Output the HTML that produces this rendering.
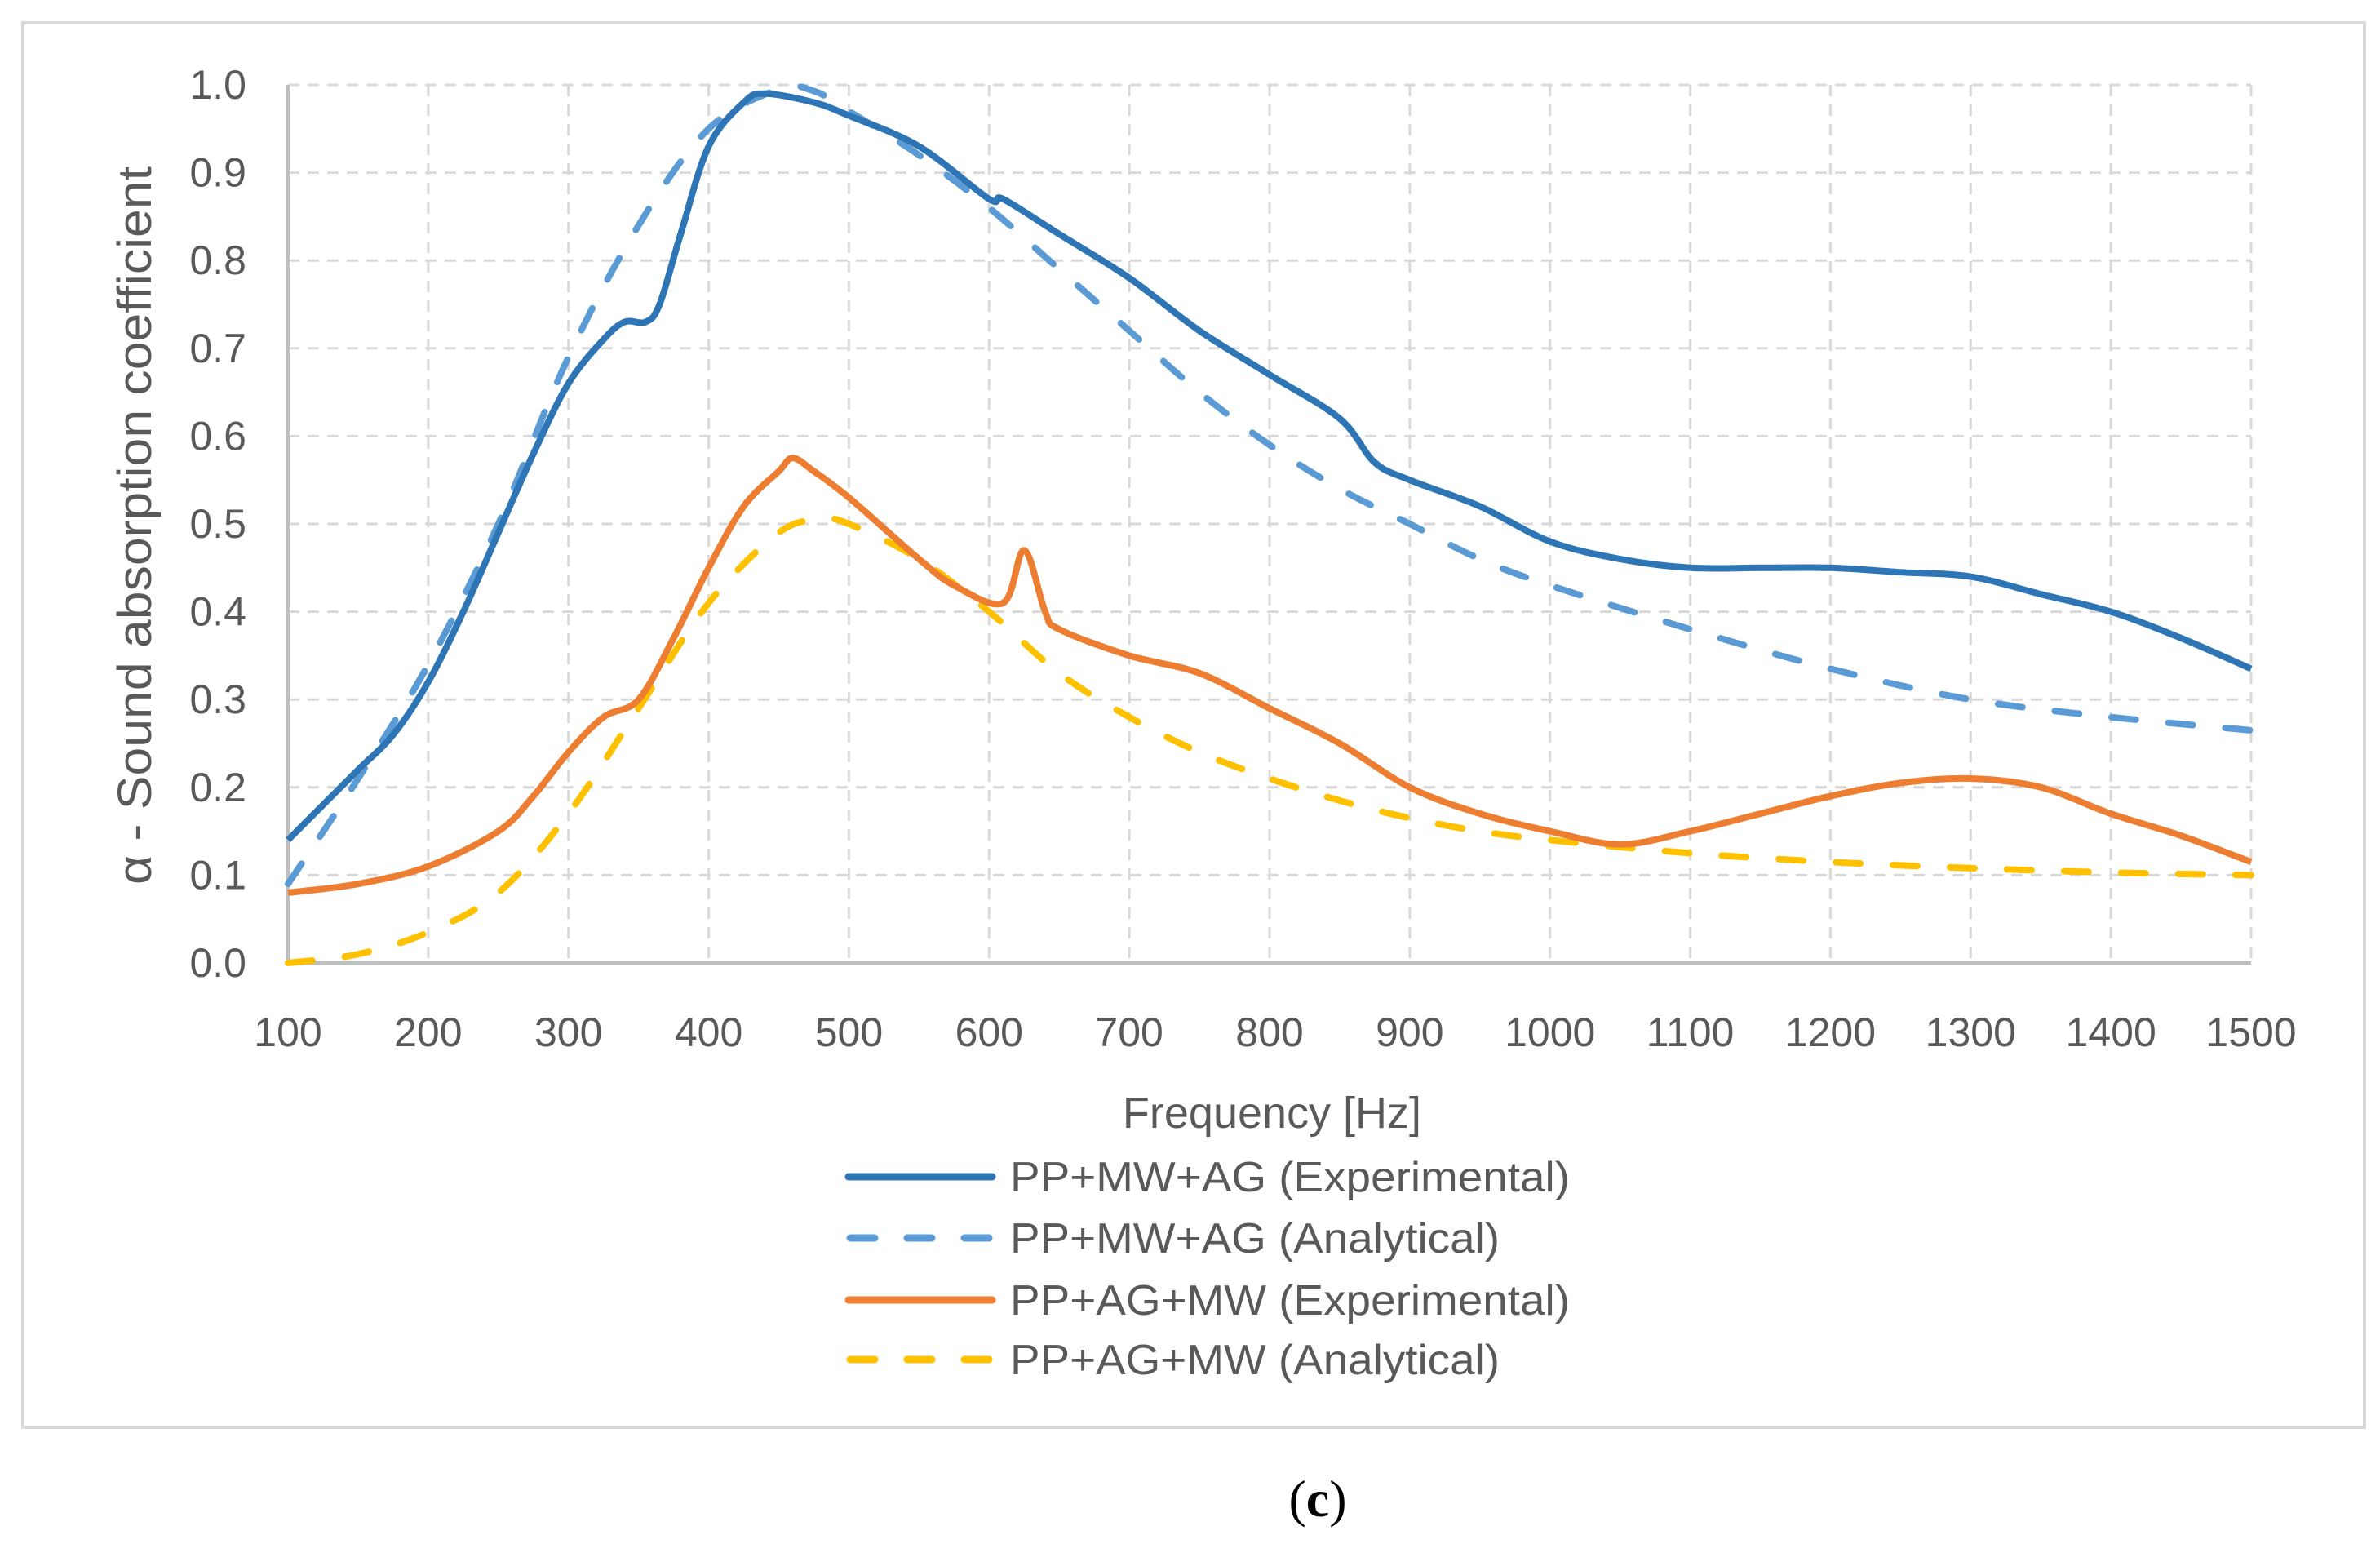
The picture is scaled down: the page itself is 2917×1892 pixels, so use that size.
<!DOCTYPE html>
<html><head><meta charset="utf-8"><style>
html,body{margin:0;padding:0;background:#fff;}
svg{display:block;font-family:"Liberation Sans",sans-serif;}
</style></head><body>
<svg id="chart" width="2917" height="1892" viewBox="0 0 2917 1892" xmlns="http://www.w3.org/2000/svg">
<rect x="28" y="28" width="2870" height="1721" fill="#fff" stroke="#d9d9d9" stroke-width="4"/>
<g id="grid"></g>
<g id="axes"></g>
<g id="series"></g>
<text x="1559" y="1382" font-size="54" fill="#595959" text-anchor="middle">Frequency [Hz]</text>
<text transform="translate(185,644) rotate(-90)" font-size="58" fill="#595959" text-anchor="middle" textLength="880" lengthAdjust="spacingAndGlyphs">α - Sound absorption coefficient</text>
<g>
<g><line x1="1040" y1="1442" x2="1216" y2="1442" stroke="#2E75B6" stroke-width="9" stroke-linecap="round"/><text x="1238" y="1460" font-size="52" fill="#595959" textLength="686" lengthAdjust="spacingAndGlyphs">PP+MW+AG (Experimental)</text></g>
<g><line x1="1042" y1="1517" x2="1214" y2="1517" stroke="#5B9BD5" stroke-width="9" stroke-linecap="round" stroke-dasharray="30,40"/><text x="1238" y="1535" font-size="52" fill="#595959" textLength="600" lengthAdjust="spacingAndGlyphs">PP+MW+AG (Analytical)</text></g>
<g><line x1="1040" y1="1593" x2="1216" y2="1593" stroke="#ED7D31" stroke-width="9" stroke-linecap="round"/><text x="1238" y="1611" font-size="52" fill="#595959" textLength="686" lengthAdjust="spacingAndGlyphs">PP+AG+MW (Experimental)</text></g>
<g><line x1="1042" y1="1666" x2="1214" y2="1666" stroke="#FFC000" stroke-width="9" stroke-linecap="round" stroke-dasharray="30,40"/><text x="1238" y="1684" font-size="52" fill="#595959" textLength="600" lengthAdjust="spacingAndGlyphs">PP+AG+MW (Analytical)</text></g>
</g>
<text x="1615" y="1858" font-size="64" fill="#000" text-anchor="middle" font-family="Liberation Serif, serif">(<tspan font-weight="bold">c</tspan>)</text>
</svg>
<script>
const xTicks=[100,200,300,400,500,600,700,800,900,1000,1100,1200,1300,1400,1500];
const yTicks=[0,0.1,0.2,0.3,0.4,0.5,0.6,0.7,0.8,0.9,1.0];
const blueExpX=[100,125,150,175,200,225,250,275,300,325,340,355,365,380,400,425,440,475,500,550,600,610,650,700,750,800,850,875,900,950,1000,1050,1100,1150,1200,1250,1300,1350,1400,1450,1500];
const blueExpY=[0.14,0.18,0.22,0.26,0.32,0.40,0.49,0.58,0.66,0.71,0.73,0.73,0.75,0.83,0.93,0.98,0.99,0.98,0.965,0.93,0.87,0.87,0.83,0.78,0.72,0.67,0.62,0.57,0.55,0.52,0.48,0.46,0.45,0.45,0.45,0.445,0.44,0.42,0.40,0.37,0.335];
const blueAnaX=[100,150,200,250,300,350,400,450,475,500,550,600,650,700,750,800,850,900,950,1000,1100,1200,1300,1400,1500];
const blueAnaY=[0.09,0.21,0.34,0.50,0.69,0.84,0.95,0.995,0.993,0.97,0.92,0.86,0.79,0.72,0.65,0.59,0.54,0.50,0.46,0.43,0.38,0.335,0.30,0.28,0.265];
const orExpX=[100,150,200,250,275,300,325,350,375,400,425,450,460,475,500,550,575,610,625,640,650,700,750,800,850,900,950,1000,1050,1100,1150,1200,1250,1300,1350,1400,1450,1500];
const orExpY=[0.08,0.09,0.11,0.15,0.19,0.24,0.28,0.30,0.37,0.45,0.52,0.56,0.575,0.56,0.53,0.46,0.43,0.41,0.47,0.40,0.38,0.35,0.33,0.29,0.25,0.20,0.17,0.15,0.135,0.15,0.17,0.19,0.205,0.21,0.20,0.17,0.145,0.115];
const yelAnaX=[100,150,200,250,300,350,400,450,480,500,550,600,650,700,750,800,850,900,950,1000,1100,1200,1300,1400,1500];
const yelAnaY=[0.0,0.01,0.035,0.08,0.17,0.29,0.41,0.49,0.505,0.50,0.46,0.40,0.33,0.28,0.24,0.21,0.185,0.165,0.15,0.14,0.125,0.115,0.108,0.103,0.10];

const X0=353,X1=2759,Y0=1180,Y1=104;
const sx=v=>X0+(v-100)/(1500-100)*(X1-X0);
const sy=v=>Y0-(v-0)/(1-0)*(Y0-Y1);
const NS='http://www.w3.org/2000/svg';
const grid=document.getElementById('grid'),axes=document.getElementById('axes'),series=document.getElementById('series');
function mk(tag,attrs,parent){const e=document.createElementNS(NS,tag);for(const k in attrs)e.setAttribute(k,attrs[k]);parent.appendChild(e);return e;}
xTicks.forEach(t=>{
  const l=mk('line',{x1:sx(t),x2:sx(t),y1:Y1,y2:Y0,stroke:'#d9d9d9','stroke-width':3,'stroke-dasharray':'14,10'},grid);
  
  
  const tx=mk('text',{x:sx(t),y:1282,'font-size':50,fill:'#595959','text-anchor':'middle'},axes);
  
  
  tx.textContent=t;
});
yTicks.forEach(t=>{
  if(t>0){const l=mk('line',{x1:X0,x2:X1,y1:sy(t),y2:sy(t),stroke:'#d9d9d9','stroke-width':3,'stroke-dasharray':'14,10'},grid);
  
  }
  const tx=mk('text',{x:302,y:sy(t)+17,'font-size':50,fill:'#595959','text-anchor':'end'},axes);
  
  
  tx.textContent=t.toFixed(1);
});
const ax=mk('line',{x1:X0,x2:X1,y1:Y0,y2:Y0,stroke:'#bfbfbf','stroke-width':4},axes);


const ay=mk('line',{x1:X0,x2:X0,y1:Y1,y2:Y0,stroke:'#bfbfbf','stroke-width':4},axes);


function smooth(xs,ys){
  const p=xs.map((x,i)=>[sx(x),sy(ys[i])]);
  let d='M'+p[0][0]+','+p[0][1];
  for(let i=0;i<p.length-1;i++){
    const p0=p[Math.max(i-1,0)],p1=p[i],p2=p[i+1],p3=p[Math.min(i+2,p.length-1)];
    const c1=[p1[0]+(p2[0]-p0[0])/6,p1[1]+(p2[1]-p0[1])/6],c2=[p2[0]-(p3[0]-p1[0])/6,p2[1]-(p3[1]-p1[1])/6];
    d+=' C'+c1+' '+c2+' '+p2;
  }
  return d;
}
function draw(xs,ys,color,dash,name){
  const a={d:smooth(xs,ys),fill:'none',stroke:color,'stroke-width':8,'stroke-linejoin':'round','stroke-linecap':dash?'round':'butt'};
  if(dash)a['stroke-dasharray']='30,40';
  const p=mk('path',a,series);
  
  
}
draw(yelAnaX,yelAnaY,'#FFC000',true,'series-pp-ag-mw-analytical');
draw(orExpX,orExpY,'#ED7D31',false,'series-pp-ag-mw-experimental');
draw(blueAnaX,blueAnaY,'#5B9BD5',true,'series-pp-mw-ag-analytical');
draw(blueExpX,blueExpY,'#2E75B6',false,'series-pp-mw-ag-experimental');
</script>
</body></html>
